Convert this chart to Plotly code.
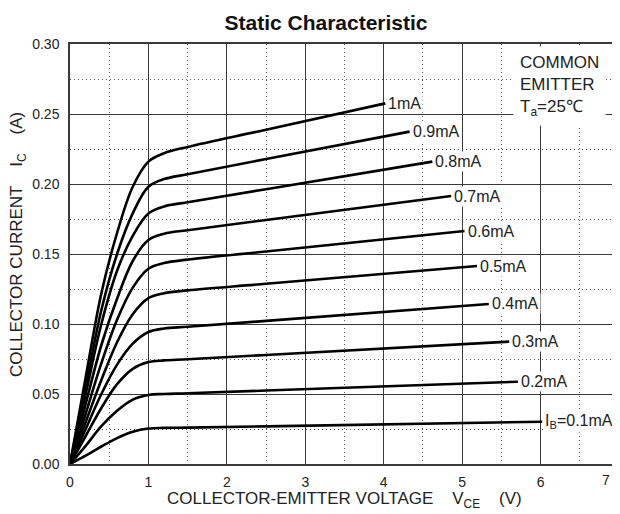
import plotly.graph_objects as go

# ---- data ----
IB_LABELS = ["I<sub>B</sub>=0.1mA", "0.2mA", "0.3mA", "0.4mA", "0.5mA",
             "0.6mA", "0.7mA", "0.8mA", "0.9mA", "1mA"]

V_KNEE = [0, 0.2, 0.4, 0.6, 0.8, 1.0, 1.2, 1.5, 2.5]

V_01 = V_KNEE + [6.02]
I_01 = [0, 0.006, 0.0125, 0.0185, 0.0230, 0.0253, 0.0258, 0.0260, 0.0269, 0.0302]
V_02 = V_KNEE + [5.71]
I_02 = [0, 0.013, 0.027, 0.038, 0.046, 0.0493, 0.0500, 0.0505, 0.0525, 0.0588]
V_03 = V_KNEE + [5.60]
I_03 = [0, 0.020, 0.040, 0.057, 0.068, 0.0728, 0.0740, 0.0748, 0.0779, 0.0874]
V_04 = V_KNEE + [5.34]
I_04 = [0, 0.025, 0.050, 0.071, 0.086, 0.0943, 0.0968, 0.0980, 0.1022, 0.1143]
V_05 = V_KNEE + [5.19]
I_05 = [0, 0.030, 0.060, 0.087, 0.107, 0.1185, 0.1220, 0.1240, 0.1287, 0.1414]
V_06 = V_KNEE + [5.03]
I_06 = [0, 0.036, 0.072, 0.103, 0.126, 0.1395, 0.1435, 0.1460, 0.1518, 0.1664]
V_07 = V_KNEE + [4.86]
I_07 = [0, 0.043, 0.085, 0.118, 0.145, 0.1600, 0.1645, 0.1670, 0.1743, 0.1914]
V_08 = V_KNEE + [4.62]
I_08 = [0, 0.050, 0.100, 0.138, 0.163, 0.1790, 0.1840, 0.1870, 0.1963, 0.2160]
V_09 = V_KNEE + [4.33]
I_09 = [0, 0.055, 0.110, 0.150, 0.179, 0.1980, 0.2035, 0.2070, 0.2178, 0.2374]
V_10 = V_KNEE + [4.02]
I_10 = [0, 0.062, 0.122, 0.165, 0.198, 0.2160, 0.2220, 0.2265, 0.2388, 0.2576]

CURVES = [(V_01, I_01), (V_02, I_02), (V_03, I_03), (V_04, I_04), (V_05, I_05),
          (V_06, I_06), (V_07, I_07), (V_08, I_08), (V_09, I_09), (V_10, I_10)]

X_TICKS = [0, 1, 2, 3, 4, 5, 6, 7]
X_TICK_TEXT = ["0", "1", "2", "3", "4", "5", "6", ""]
X_EDGE_LABEL = "7"          # last tick label, sits on the right edge
Y_TICKS = [0.00, 0.05, 0.10, 0.15, 0.20, 0.25, 0.30]
Y_TICK_TEXT = ["0.00", "0.05", "0.10", "0.15", "0.20", "0.25", "0.30"]

TITLE = "Static Characteristic"
X_TITLE = "COLLECTOR-EMITTER VOLTAGE\u00a0\u00a0\u00a0\u00a0V<sub>CE</sub>\u00a0\u00a0\u00a0\u00a0(V)"
Y_TITLE = "COLLECTOR CURRENT\u00a0\u00a0\u00a0\u00a0I<sub>C</sub>\u00a0\u00a0\u00a0\u00a0(A)"
NOTE = "COMMON<br>EMITTER<br>T<sub>a</sub>=25\u2103"

# ---- layout geometry (page pixels; the page body adds an 8px offset) ----
OFF = 8
W, H = 620 - OFF, 514 - OFF
PLOT_L, PLOT_R, PLOT_T, PLOT_B = 70, 619, 44, 464   # target page pixels
ML = PLOT_L - OFF
MR = W - (PLOT_R - OFF)
MT = PLOT_T - OFF
MB = H - (PLOT_B - OFF)
PW, PH = W - ML - MR, H - MT - MB

def px_x(p):
    return (p - PLOT_L) / PW

def px_y(p):
    return (PLOT_B - p) / PH

FONT = "Liberation Sans, Arial, sans-serif"
TXT = "#222222"

fig = go.Figure()
for (v, i) in CURVES:
    fig.add_trace(go.Scatter(x=v, y=i, mode="lines",
                             line=dict(color="black", width=2.6, shape="spline", smoothing=1.0),
                             hoverinfo="skip", showlegend=False))

annotations = []
for (v, i), lab in zip(CURVES, IB_LABELS):
    annotations.append(dict(x=v[-1], y=i[-1], xref="x", yref="y", text=lab,
                            showarrow=False, xanchor="left", yanchor="middle", xshift=1,
                            bgcolor="white", borderpad=1,
                            font=dict(family=FONT, size=16, color=TXT)))

annotations.append(dict(x=px_x(513), y=px_y(46), xref="paper", yref="paper", text=NOTE,
                        showarrow=False, xanchor="left", yanchor="top", align="left",
                        bgcolor="white", borderpad=6,
                        font=dict(family=FONT, size=17, color=TXT)))
annotations.append(dict(x=px_x(344), y=px_y(500), xref="paper", yref="paper", text=X_TITLE,
                        showarrow=False, xanchor="center", yanchor="middle",
                        font=dict(family=FONT, size=17, color=TXT)))
annotations.append(dict(x=px_x(18), y=px_y(245), xref="paper", yref="paper", text=Y_TITLE,
                        showarrow=False, xanchor="center", yanchor="middle", textangle=-90,
                        font=dict(family=FONT, size=17, color=TXT)))
annotations.append(dict(x=X_TICKS[-1], y=px_y(480), xref="x", yref="paper", text=X_EDGE_LABEL,
                        showarrow=False, xanchor="right", yanchor="middle", xshift=-7,
                        font=dict(family=FONT, size=14, color=TXT)))

grid_major = "#3a3a3a"
grid_minor = "#555555"

fig.update_layout(
    width=W, height=H,
    margin=dict(l=ML, r=MR, t=MT, b=MB),
    paper_bgcolor="white", plot_bgcolor="white",
    title=dict(text="<b>" + TITLE + "</b>", x=(326 - OFF) / W, xref="container", xanchor="center",
               y=1 - (23 - OFF) / H, yref="container", yanchor="middle",
               font=dict(family=FONT, size=21, color="#111111")),
    xaxis=dict(range=[0, 7], tickvals=X_TICKS, ticktext=X_TICK_TEXT,
               showgrid=True, gridcolor=grid_major, gridwidth=1.3,
               minor=dict(dtick=0.5, showgrid=True, gridcolor=grid_minor, gridwidth=1,
                          griddash="1px,3px", ticks=""),
               showline=True, linecolor=grid_major, linewidth=1.5, mirror=True,
               zeroline=False, ticks="", ticklabelstandoff=4,
               tickfont=dict(family=FONT, size=14, color=TXT), fixedrange=True),
    yaxis=dict(range=[0, 0.30], tickvals=Y_TICKS, ticktext=Y_TICK_TEXT,
               showgrid=True, gridcolor=grid_major, gridwidth=1.3,
               minor=dict(dtick=0.025, showgrid=True, gridcolor=grid_minor, gridwidth=1,
                          griddash="1px,3px", ticks=""),
               showline=True, linecolor=grid_major, linewidth=1.5, mirror=False,
               zeroline=False, ticks="", ticklabelstandoff=6,
               tickfont=dict(family=FONT, size=14, color=TXT), fixedrange=True),
    annotations=annotations,
)

fig.write_html("out.html")
